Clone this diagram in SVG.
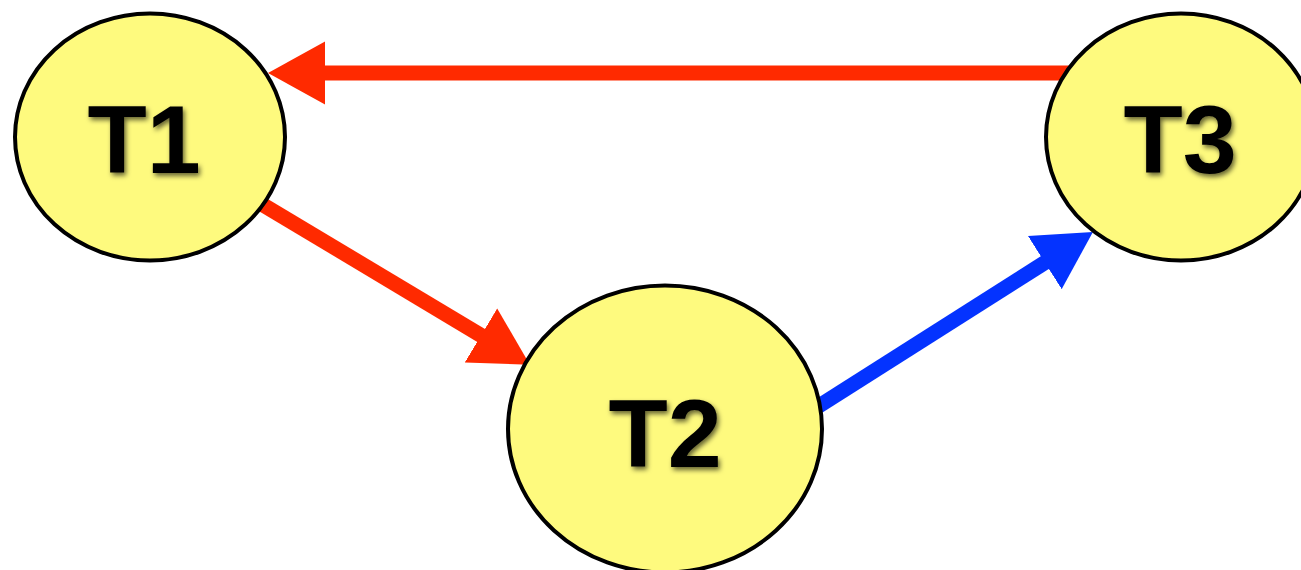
<svg xmlns="http://www.w3.org/2000/svg" width="1301" height="570" viewBox="0 0 1301 570">
  <defs>
    <style>
      .node ellipse { fill: #FEFA7E; stroke: #000; stroke-width: 4; }
      .node text { font-family: "Liberation Sans", Arial, sans-serif; font-weight: bold; font-size: 97px; fill: #000; text-anchor: middle; filter: url(#shadow); }
      .edge { fill: none; stroke-width: 15; stroke-linecap: butt; }
      .red { stroke: #FF2A00; }
      .blue { stroke: #0433FF; }
    </style>
    <filter id="shadow" x="-20%" y="-20%" width="140%" height="140%">
      <feDropShadow dx="2" dy="3" stdDeviation="2.5" flood-color="#000" flood-opacity="0.6"/>
    </filter>
    <marker id="arrowRed" viewBox="0 -32 58 64" markerWidth="58" markerHeight="64" refX="7" refY="0" orient="auto" markerUnits="userSpaceOnUse">
      <path d="M0,-31.5 L57,0 L0,31.5 Z" fill="#FF2A00"/>
    </marker>
    <marker id="arrowBlue" viewBox="0 -32 58 64" markerWidth="58" markerHeight="64" refX="7" refY="0" orient="auto" markerUnits="userSpaceOnUse">
      <path d="M0,-31.5 L57,0 L0,31.5 Z" fill="#0433FF"/>
    </marker>
  </defs>
  <rect width="1301" height="570" fill="#fff"/>
  <g id="connectors">
    <line class="edge red" x1="1100" y1="73" x2="318" y2="73" marker-end="url(#arrowRed)"/>
    <line class="edge red" x1="250" y1="197" x2="487" y2="339" marker-end="url(#arrowRed)"/>
    <line class="edge blue" x1="800" y1="418" x2="1050.7" y2="258.8" marker-end="url(#arrowBlue)"/>
  </g>
  <g id="T1" class="node">
    <ellipse cx="150" cy="137" rx="135" ry="123.5"/>
    <text x="144" y="173">T1</text>
  </g>
  <g id="T2" class="node">
    <ellipse cx="665" cy="429" rx="157" ry="143.5"/>
    <text x="665" y="467">T2</text>
  </g>
  <g id="T3" class="node">
    <ellipse cx="1181" cy="137" rx="135" ry="123.5"/>
    <text x="1180" y="173">T3</text>
  </g>
</svg>
